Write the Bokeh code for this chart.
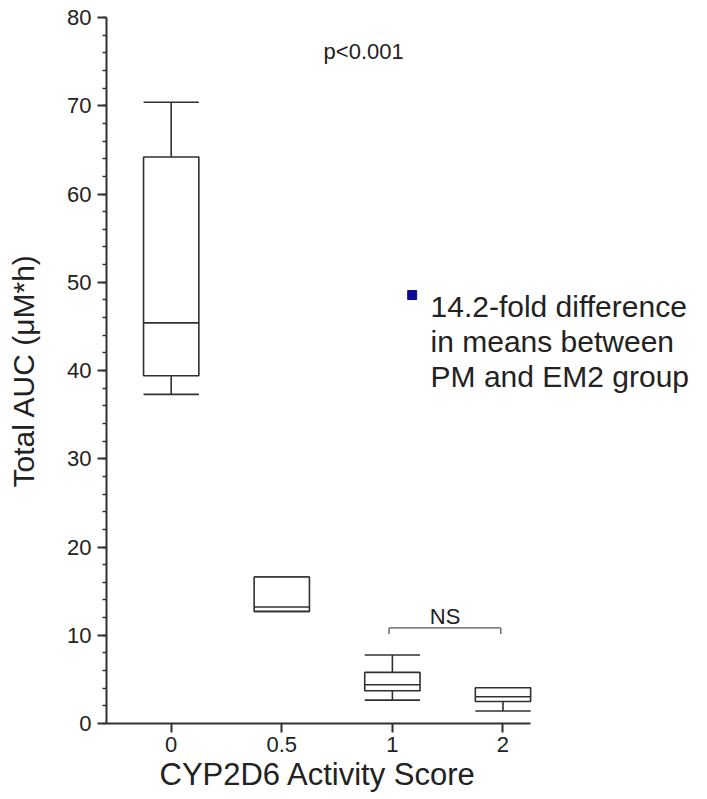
from bokeh.plotting import figure
from bokeh.models import (ColumnDataSource, Range1d, FixedTicker,
                          SingleIntervalTicker, Label, Title)
from bokeh.embed import file_html
from bokeh.resources import INLINE

# CYP2D6 activity score groups and total AUC box statistics (uM*h)
scores = ["0", "0.5", "1", "2"]
whisker_low = [37.3, 12.7, 2.65, 1.41]
q1 = [39.4, 12.7, 3.71, 2.5]
median = [45.4, 13.2, 4.39, 3.03]
q3 = [64.2, 16.6, 5.79, 4.05]
whisker_high = [70.4, 16.6, 7.76, 4.05]

p_value_text = "p<0.001"
ns_text = "NS"
note_lines = ["14.2-fold difference", "in means between", "PM and EM2 group"]
x_title = "CYP2D6 Activity Score"
y_title = "Total AUC (\u03bcM*h)"

FONT = "Liberation Sans"
INK = "#222222"
LINE = "#303030"

pos = list(range(len(scores)))
half = 0.25
src = ColumnDataSource(dict(
    x=pos,
    left=[v - half for v in pos],
    right=[v + half for v in pos],
    wlo=whisker_low, q1=q1, med=median, q3=q3, whi=whisker_high,
))

# the frame runs on to the right so the note text has room; the x axis
# itself stops at the last box
X_START, X_AXIS_END, X_VIEW_END = -0.585, 3.25, 4.786
p = figure(width=707, height=799, output_backend="svg", toolbar_location=None,
           x_range=Range1d(X_START, X_VIEW_END), y_range=Range1d(0, 80),
           min_border_left=106, min_border_right=7,
           min_border_top=17, min_border_bottom=76)
p.outline_line_color = None
p.grid.visible = False
p.background_fill_color = "white"
p.border_fill_color = "white"

# whisker stems
p.segment(x0="x", x1="x", y0="q3", y1="whi", source=src, line_color=LINE, line_width=1.6)
p.segment(x0="x", x1="x", y0="wlo", y1="q1", source=src, line_color=LINE, line_width=1.6)
# whisker caps
p.segment(x0="left", x1="right", y0="whi", y1="whi", source=src, line_color=LINE, line_width=1.6)
p.segment(x0="left", x1="right", y0="wlo", y1="wlo", source=src, line_color=LINE, line_width=1.6)
# boxes and medians
p.quad(left="left", right="right", bottom="q1", top="q3", source=src,
       fill_color="white", line_color=LINE, line_width=1.6)
p.segment(x0="left", x1="right", y0="med", y1="med", source=src, line_color=LINE, line_width=1.6)

# NS bracket between the score-1 and score-2 groups
br_x0, br_x1, br_y, br_drop = 1.97, 2.98, 10.83, 10.15
p.segment(x0=[br_x0, br_x0, br_x1], x1=[br_x1, br_x0, br_x1],
          y0=[br_y, br_y, br_y], y1=[br_y, br_drop, br_drop],
          line_color="#555555", line_width=1.3)
p.add_layout(Label(x=2.477, y=12.15, text=ns_text, text_align="center",
                   text_baseline="alphabetic", text_font=FONT,
                   text_font_size="22px", text_color=INK))

# overall p-value
p.add_layout(Label(x=1.74, y=76.2, text=p_value_text, text_align="center",
                   text_baseline="alphabetic", text_font=FONT,
                   text_font_size="22px", text_color=INK))

# bullet note
p.scatter(x=[2.179], y=[48.55], marker="square", size=9,
          fill_color="#0a0a96", line_color="#0a0a96")
for i, line in enumerate(note_lines):
    p.add_layout(Label(x=2.345, y=47.3 - 4.0 * i, text=line,
                       text_align="left", text_baseline="alphabetic",
                       text_font=FONT, text_font_size="30px", text_color=INK))

# axes
for ax in (p.xaxis[0], p.yaxis[0]):
    ax.axis_line_color = LINE
    ax.axis_line_width = 2
    ax.major_tick_line_color = LINE
    ax.major_tick_line_width = 2
    ax.minor_tick_line_color = LINE
    ax.minor_tick_line_width = 1.5
    ax.major_tick_out = 9
    ax.major_tick_in = 0
    ax.major_label_text_font = FONT
    ax.major_label_text_font_size = "22px"
    ax.major_label_text_color = INK
    ax.axis_label_text_font = FONT
    ax.axis_label_text_font_style = "normal"
    ax.axis_label_text_color = INK

p.xaxis.bounds = (X_START, X_AXIS_END)
p.xaxis.ticker = FixedTicker(ticks=pos)
p.xaxis.major_label_overrides = {i: s for i, s in zip(pos, scores)}
p.xaxis.minor_tick_line_color = None
p.xaxis.major_label_standoff = 4

# x title centred under the drawn part of the x axis, not the whole frame
p.add_layout(Title(text=x_title, align="left", offset=53, standoff=0,
                   text_font=FONT, text_font_size="31px",
                   text_font_style="normal", text_color=INK), "below")

p.yaxis.ticker = SingleIntervalTicker(interval=10, num_minor_ticks=5)
p.yaxis.minor_tick_out = 4
p.yaxis.minor_tick_in = 0
p.yaxis.major_label_standoff = 6
p.yaxis.axis_label = y_title
p.yaxis.axis_label_text_font_size = "30px"
p.yaxis.axis_label_standoff = 24

open("out.html", "w").write(file_html(p, INLINE))
